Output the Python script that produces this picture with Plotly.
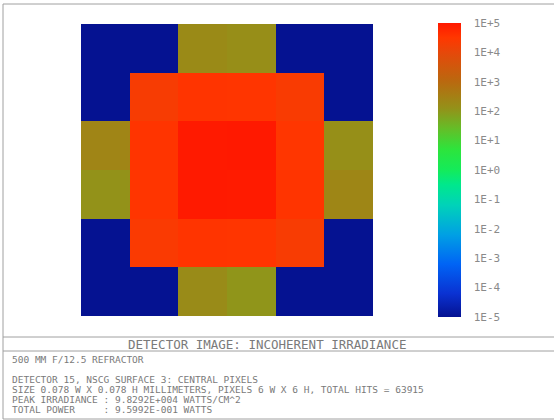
import numpy as np
import plotly.graph_objects as go

# Irradiance per detector pixel (W/cm^2), 6 x 6, row 0 = top
irradiance = [
    [0, 0, 1.8e2, 1.5e2, 0, 0],
    [0, 2.2e4, 3.5e4, 3.4e4, 2.4e4, 0],
    [2.4e2, 3.6e4, 9.6e4, 9.83e4, 3.3e4, 1.4e2],
    [1.2e2, 3.4e4, 9.5e4, 9.3e4, 3.5e4, 2.2e2],
    [0, 2.5e4, 3.5e4, 3.4e4, 2.3e4, 0],
    [0, 0, 1.7e2, 1.1e2, 0, 0],
]
pixel_x = [0, 1, 2, 3, 4, 5]
pixel_y = [0, 1, 2, 3, 4, 5]
log_ticks = [5, 4, 3, 2, 1, 0, -1, -2, -3, -4, -5]
tick_labels = ["1E+5", "1E+4", "1E+3", "1E+2", "1E+1", "1E+0",
               "1E-1", "1E-2", "1E-3", "1E-4", "1E-5"]

title_text = "DETECTOR IMAGE: INCOHERENT IRRADIANCE"
info_lines = [
    "500 MM F/12.5 REFRACTOR",
    "",
    "DETECTOR 15, NSCG SURFACE 3: CENTRAL PIXELS",
    "SIZE 0.078 W X 0.078 H MILLIMETERS, PIXELS 6 W X 6 H, TOTAL HITS = 63915",
    "PEAK IRRADIANCE : 9.8292E+004 WATTS/CM^2",
    "TOTAL POWER     : 9.5992E-001 WATTS",
]

z = np.log10(np.maximum(np.array(irradiance, dtype=float), 1e-5))

colorscale = [
    [0.00, "rgb(5,18,145)"],
    [0.08, "rgb(10,50,210)"],
    [0.18, "rgb(0,100,245)"],
    [0.28, "rgb(0,160,228)"],
    [0.38, "rgb(0,210,185)"],
    [0.45, "rgb(0,232,140)"],
    [0.50, "rgb(20,235,90)"],
    [0.57, "rgb(45,228,60)"],
    [0.64, "rgb(100,190,40)"],
    [0.71, "rgb(148,145,25)"],
    [0.80, "rgb(185,105,15)"],
    [0.90, "rgb(230,72,10)"],
    [0.95, "rgb(255,55,0)"],
    [1.00, "rgb(255,25,0)"],
]

W, H = 554, 420
fig = go.Figure()
fig.add_trace(go.Heatmap(
    z=z, x=pixel_x, y=pixel_y, zmin=-5, zmax=5,
    colorscale=colorscale,
    colorbar=dict(
        tickvals=log_ticks, ticktext=tick_labels,
        thickness=23, thicknessmode="pixels",
        len=294, lenmode="pixels",
        x=438 / W, xanchor="left", xpad=0,
        y=1 - 170 / H, yanchor="middle", ypad=0,
        outlinewidth=0,
        ticks="outside", ticklen=11, tickcolor="rgba(0,0,0,0)",
        tickfont=dict(family="DejaVu Sans Mono", size=11, color="#8a8a8a"),
    ),
    showscale=True,
))

fig.update_layout(
    width=W, height=H,
    margin=dict(l=0, r=0, t=0, b=0),
    paper_bgcolor="white", plot_bgcolor="white",
    xaxis=dict(domain=[81 / W, 373 / W], range=[-0.5, 5.5],
               visible=False, fixedrange=True),
    yaxis=dict(domain=[1 - 316 / H, 1 - 24 / H], range=[5.5, -0.5],
               visible=False, fixedrange=True),
    showlegend=False,
)

def py(pix):
    return 1 - pix / H

line_style = dict(color="#a0a0a0", width=1)
fig.add_shape(type="line", xref="paper", yref="paper",
              x0=3 / W, x1=1, y0=py(4), y1=py(4), line=line_style)
fig.add_shape(type="line", xref="paper", yref="paper",
              x0=3 / W, x1=3 / W, y0=py(4), y1=py(419), line=line_style)
fig.add_shape(type="line", xref="paper", yref="paper",
              x0=3 / W, x1=1, y0=py(419), y1=py(419), line=line_style)
fig.add_shape(type="line", xref="paper", yref="paper",
              x0=3 / W, x1=1, y0=py(337), y1=py(337), line=line_style)
fig.add_shape(type="line", xref="paper", yref="paper",
              x0=3 / W, x1=1, y0=py(351), y1=py(351), line=line_style)

fig.add_annotation(text=title_text, xref="paper", yref="paper",
                   x=267 / W, y=py(344), xanchor="center", yanchor="middle",
                   showarrow=False,
                   font=dict(family="DejaVu Sans Mono", size=12.5, color="#7a7a7a"))

line_y = [359, 369, 379, 389, 399, 409]
for txt, yy in zip(info_lines, line_y):
    if not txt:
        continue
    fig.add_annotation(text=txt.replace(" ", "&nbsp;"), xref="paper", yref="paper",
                       x=10 / W, y=py(yy), xanchor="left", yanchor="middle",
                       showarrow=False,
                       font=dict(family="DejaVu Sans Mono", size=9.5, color="#7a7a7a"))

fig.write_html("out.html")
